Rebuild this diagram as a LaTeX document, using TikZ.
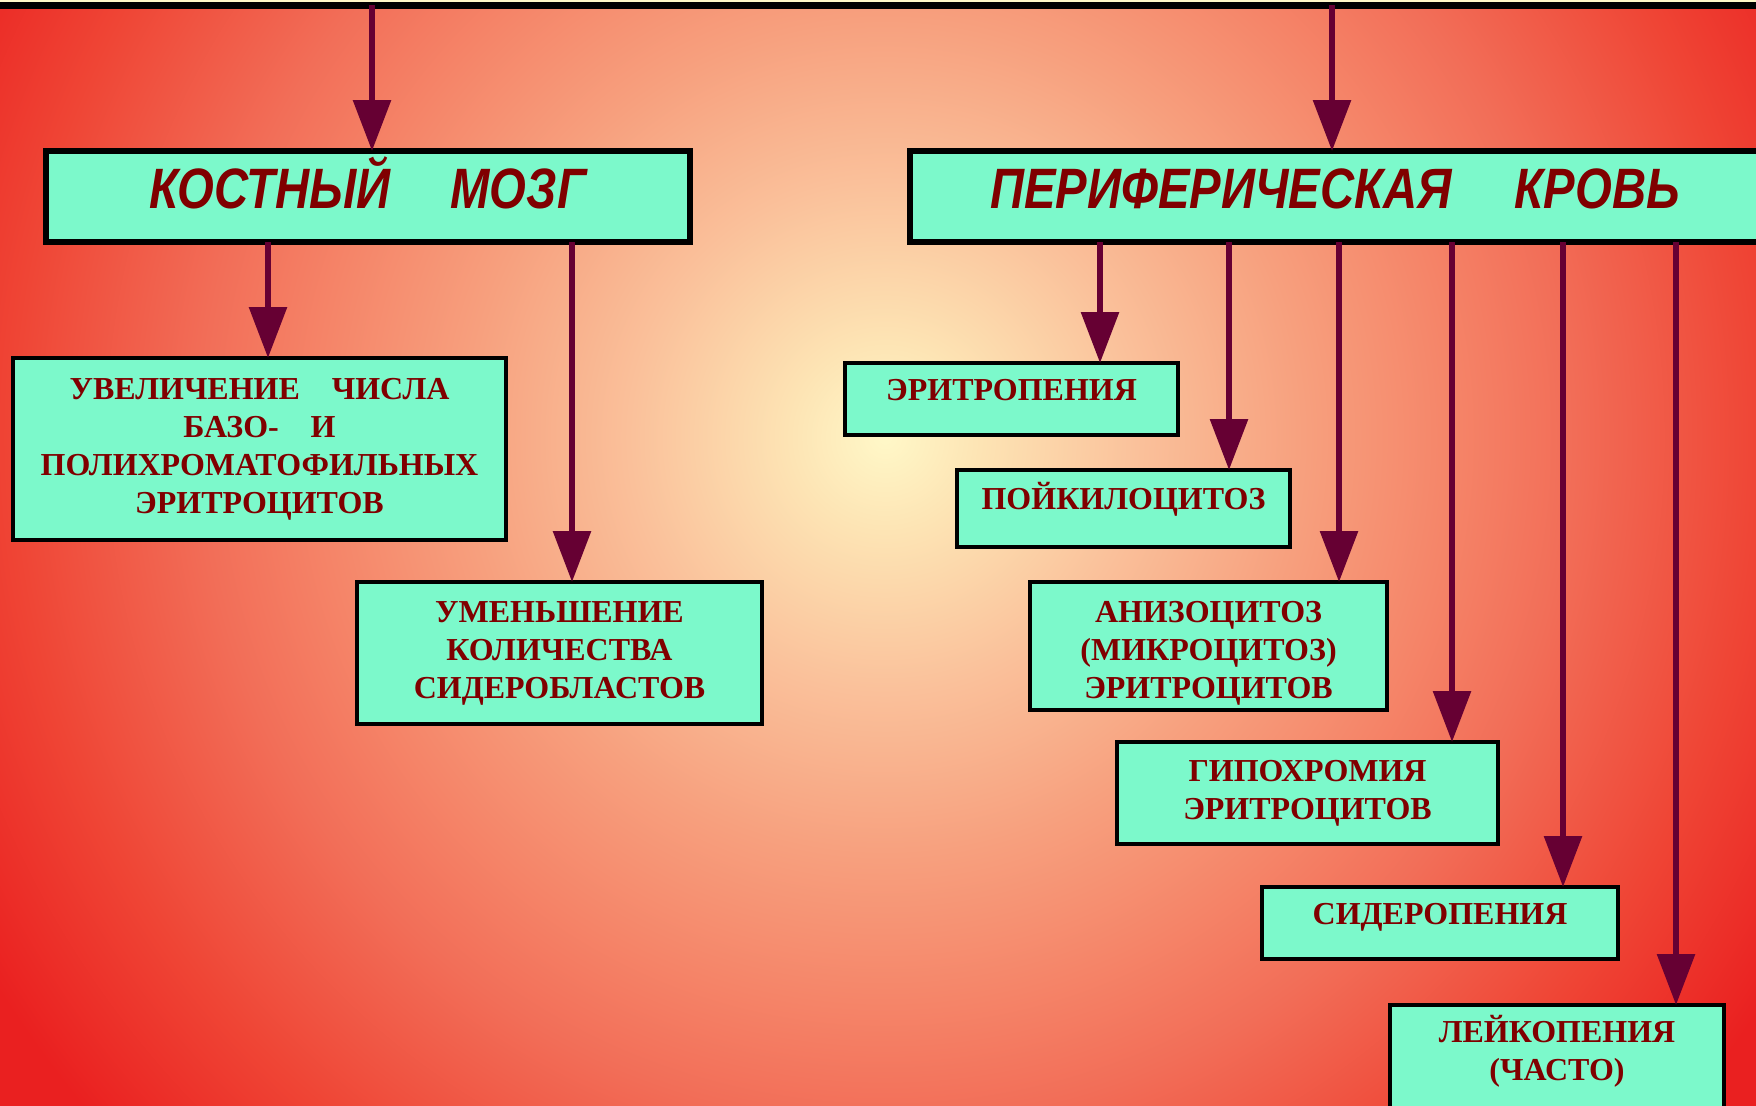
\documentclass[tikz,border=0pt]{standalone}
\usepackage{fontspec}
\setmainfont{Liberation Serif}
\newfontfamily\headfont[FakeStretch=0.83]{Liberation Sans}
\usetikzlibrary{arrows.meta}

\definecolor{mint}{HTML}{7CF9CB}
\definecolor{wine}{HTML}{800000}
\definecolor{plum}{HTML}{660033}
\definecolor{bgA}{HTML}{FFF8C8}
\definecolor{bgB}{HTML}{FDE4B4}
\definecolor{bgC}{HTML}{FAC09A}
\definecolor{bgD}{HTML}{F7A07E}
\definecolor{bgE}{HTML}{F58468}
\definecolor{bgF}{HTML}{F26E58}
\definecolor{bgG}{HTML}{EF4535}
\definecolor{bgH}{HTML}{EA2020}
% path box = inner 50bp square, so 25bp is half the side
\pgfdeclareradialshading{glow}{\pgfpoint{0bp}{0bp}}{color(0bp)=(bgA); color(2.5bp)=(bgB); color(6.75bp)=(bgC); color(11bp)=(bgD); color(15bp)=(bgE); color(18bp)=(bgF); color(23bp)=(bgG); color(27.5bp)=(bgH); color(40bp)=(bgH)}

\begin{document}
\begin{tikzpicture}[
  head/.style={draw=black, line width=1.7pt, fill=mint, text=wine, anchor=north west, outer sep=0pt,
    font=\headfont\bfseries\itshape\fontsize{16.2}{19}\selectfont, text height=12pt, text depth=4.9pt},
  sign/.style={draw=black, line width=1.1pt, fill=mint, text=wine, anchor=north west, outer sep=0pt,
    align=center, font=\bfseries\fontsize{9.1}{10.8}\selectfont},
  oneline/.style={sign, text height=7pt, text depth=6.4pt},
  link/.style={draw=plum, line width=1.7pt, -{Triangle[length=5.1mm,width=3.7mm]}}]
\useasboundingbox (0,0) rectangle (17.56,-11.05);
\begin{scope}
\clip (0,0) rectangle (17.56,-11.05);
\shade[shading=glow] (-0.65,5.13) rectangle (18.35,-13.87);
\end{scope}
\fill[bgA] (0,0) rectangle (17.56,-0.015);
\fill[black] (0,-0.015) rectangle (17.56,-0.085);

\node[head, minimum width=6.44cm, minimum height=0.91cm] (bone) at (0.456,-1.51) {КОСТНЫЙ\hspace{1.05em}МОЗГ};
\node[head, minimum width=8.50cm, minimum height=0.91cm] (blood) at (9.10,-1.51) {ПЕРИФЕРИЧЕСКАЯ\hspace{1.1em}КРОВЬ};

\node[sign, minimum width=4.93cm, minimum height=1.82cm] (incr) at (0.13,-3.58)
  {УВЕЛИЧЕНИЕ\quad ЧИСЛА\\БАЗО-\quad И\\ПОЛИХРОМАТОФИЛЬНЫХ\\ЭРИТРОЦИТОВ};
\node[sign, minimum width=4.05cm, minimum height=1.42cm] (decr) at (3.57,-5.82)
  {УМЕНЬШЕНИЕ\\КОЛИЧЕСТВА\\СИДЕРОБЛАСТОВ};

\node[oneline, minimum width=3.33cm, minimum height=0.72cm] (ery) at (8.45,-3.63) {ЭРИТРОПЕНИЯ};
\node[oneline, minimum width=3.33cm, minimum height=0.77cm] (poik) at (9.57,-4.70) {ПОЙКИЛОЦИТОЗ};
\node[sign, minimum width=3.57cm, minimum height=1.25cm, text height=29.8pt, text depth=0pt] (aniso) at (10.30,-5.82)
  {АНИЗОЦИТОЗ\\(МИКРОЦИТОЗ)\\ЭРИТРОЦИТОВ};
\node[sign, minimum width=3.81cm, minimum height=1.02cm] (hypo) at (11.17,-7.42)
  {ГИПОХРОМИЯ\\ЭРИТРОЦИТОВ};
\node[oneline, minimum width=3.56cm, minimum height=0.72cm] (sidero) at (12.62,-8.87) {СИДЕРОПЕНИЯ};
\node[sign, minimum width=3.34cm, minimum height=1.3cm, text height=18.2pt, text depth=12pt] (leuko) at (13.90,-10.05)
  {ЛЕЙКОПЕНИЯ\\(ЧАСТО)};

\coordinate (srcL) at (3.72,-0.05);
\coordinate (srcR) at (13.32,-0.05);
\draw[link] (srcL) -- (bone.north -| srcL);
\draw[link] (srcR) -- (blood.north -| srcR);

\draw[link] (bone.south -| 2.68,0) -- (incr.north -| 2.68,0);
\draw[link] (bone.south -| 5.72,0) -- (decr.north -| 5.72,0);
\foreach \x/\n in {11.00/ery, 12.29/poik, 13.39/aniso, 14.52/hypo, 15.63/sidero, 16.76/leuko}
  \draw[link] (blood.south -| \x,0) -- (\n.north -| \x,0);
\end{tikzpicture}
\end{document}
